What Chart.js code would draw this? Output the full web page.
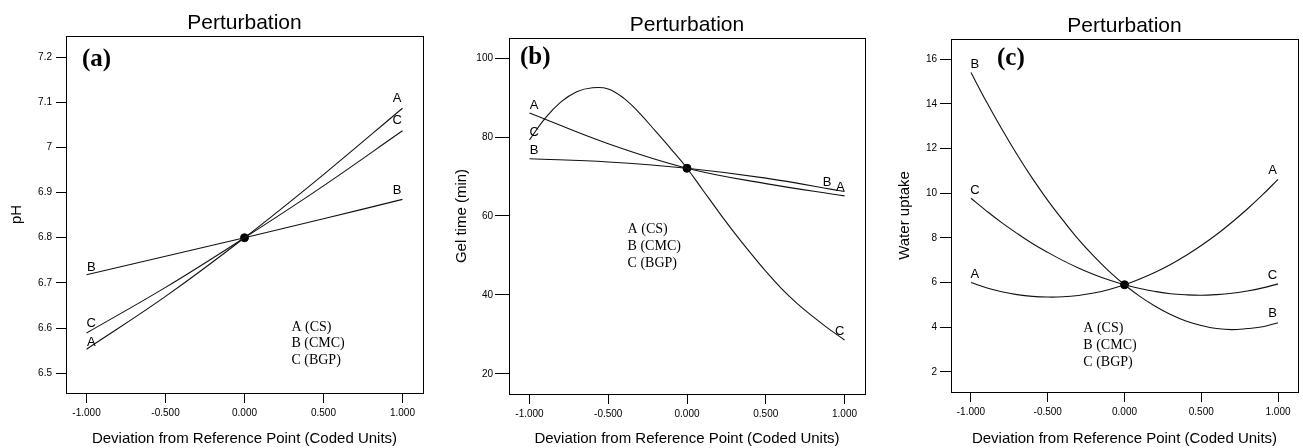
<!DOCTYPE html>
<html>
<head>
<meta charset="utf-8">
<script src="https://cdn.jsdelivr.net/npm/chart.js@4.4.0/dist/chart.umd.min.js"></script>
<style>
body { margin: 0; background: #fff; width: 1303px; height: 448px; position: relative; overflow: hidden; }
canvas { position: absolute; top: 0; }
</style>
</head>
<body>
<canvas id="chartA" width="440" height="448" style="left:0px"></canvas>
<canvas id="chartB" width="430" height="448" style="left:440px"></canvas>
<canvas id="chartC" width="433" height="448" style="left:870px"></canvas>
<script>
// x positions (coded units)
var x5 = [-1, -0.5, 0, 0.5, 1];
var x21 = [-1, -0.9, -0.8, -0.7, -0.6, -0.5, -0.4, -0.3, -0.2, -0.1, 0,
           0.1, 0.2, 0.3, 0.4, 0.5, 0.6, 0.7, 0.8, 0.9, 1];
var xTicks = [-1, -0.5, 0, 0.5, 1];

// (a) pH
var phA = [6.553, 6.670, 6.8, 6.940, 7.087];
var phB = [6.718, 6.759, 6.8, 6.842, 6.885];
var phC = [6.589, 6.690, 6.8, 6.915, 7.037];
var phTicks = [6.5, 6.6, 6.7, 6.8, 6.9, 7, 7.1, 7.2];

// (b) gel time
var gelA = [86.1, 78.3, 72.1, 68.2, 65.1];
var gelB = [74.5, 73.7, 72.1, 69.6, 66.2];
var gelC = [79.3, 84.8, 88.9, 91.5, 92.5, 92.2, 89.8, 86.0, 81.5, 76.9, 72.1,
            66.6, 61.1, 55.8, 50.8, 46.0, 41.6, 37.8, 34.5, 31.4, 28.6];
var gelTicks = [20, 40, 60, 80, 100];

// (c) water uptake
var wuA = [6.0, 5.77, 5.59, 5.46, 5.38, 5.35, 5.36, 5.42, 5.53, 5.69, 5.9,
           6.16, 6.46, 6.81, 7.21, 7.66, 8.15, 8.70, 9.29, 9.93, 10.62];
var wuB = [15.4, 14.1, 12.88, 11.73, 10.66, 9.68, 8.78, 7.93, 7.18, 6.5, 5.9,
           5.38, 4.94, 4.57, 4.28, 4.08, 3.94, 3.89, 3.94, 4.02, 4.2];
var wuC = [9.77, 9.21, 8.68, 8.20, 7.75, 7.35, 6.98, 6.65, 6.36, 6.11, 5.9,
           5.73, 5.60, 5.50, 5.45, 5.43, 5.46, 5.52, 5.62, 5.76, 5.94];
var wuTicks = [2, 4, 6, 8, 10, 12, 14, 16];

var legendLines = ['A (CS)', 'B (CMC)', 'C (BGP)'];
var sans = "'Liberation Sans', Arial, sans-serif";
var serif = "'Liberation Serif', 'Times New Roman', serif";

function pts(xs, ys) {
    var out = [];
    for (var i = 0; i < xs.length; i++) out.push({x: xs[i], y: ys[i]});
    return out;
}

function curve(xs, ys) {
    return {
        data: pts(xs, ys),
        borderColor: '#111',
        borderWidth: 1.1,
        pointRadius: 0,
        fill: false,
        tension: 0.4
    };
}

// frame, title, panel letter, legend text and curve labels
var decoPlugin = {
    id: 'deco',
    afterDraw: function(chart, args, o) {
        var c = chart.ctx, a = chart.chartArea;
        var sx = chart.scales.x, sy = chart.scales.y;
        c.save();
        c.strokeStyle = '#000';
        c.lineWidth = 1;
        c.strokeRect(Math.round(a.left) + 0.5, Math.round(a.top) + 0.5,
                     Math.round(a.right - a.left), Math.round(a.bottom - a.top));
        c.fillStyle = '#000';
        c.textAlign = 'center';
        c.textBaseline = 'middle';
        c.font = '21px ' + sans;
        c.fillText('Perturbation', (a.left + a.right) / 2, o.titleY);

        c.textAlign = 'left';
        c.font = 'bold 25px ' + serif;
        c.fillText(o.letter, a.left + o.letterDx, a.top + o.letterDy);

        c.font = '14px ' + serif;
        var lx = sx.getPixelForValue(o.legend[0]);
        var ly = sy.getPixelForValue(o.legend[1]);
        for (var i = 0; i < legendLines.length; i++) {
            c.fillText(legendLines[i], lx, ly + i * o.legend[2]);
        }

        c.textAlign = 'center';
        c.font = '13px ' + sans;
        o.labels.forEach(function(l) {
            c.fillText(l[0], sx.getPixelForValue(l[1]), sy.getPixelForValue(l[2]));
        });
        c.restore();
    }
};

function makePanel(id, p) {
    var ds = p.series.slice();
    ds.push({
        data: [{x: 0, y: p.center}],
        pointRadius: 4,
        pointBackgroundColor: '#000',
        pointBorderColor: '#000',
        showLine: false
    });
    return new Chart(document.getElementById(id), {
        type: 'line',
        data: { datasets: ds },
        plugins: [decoPlugin],
        options: {
            responsive: false,
            animation: false,
            events: [],
            layout: { padding: { left: 0, right: p.padRight, top: p.padTop, bottom: 0 } },
            plugins: {
                legend: { display: false },
                tooltip: { enabled: false },
                deco: {
                    titleY: p.titleY,
                    letter: p.letter, letterDx: p.letterDx, letterDy: p.letterDy,
                    legend: p.legendAt,
                    labels: p.labels
                }
            },
            scales: {
                x: {
                    type: 'linear',
                    min: -1.13,
                    max: 1.13,
                    afterBuildTicks: function(s) { s.ticks = xTicks.map(function(v) { return {value: v}; }); },
                    afterFit: function(s) { s.height = p.xHeight; },
                    grid: { drawOnChartArea: false, color: '#000', tickLength: 10 },
                    border: { display: false },
                    ticks: {
                        color: '#000',
                        padding: 4,
                        maxRotation: 0,
                        font: { family: sans, size: 10 },
                        callback: function(v) { return Number(v).toFixed(3); }
                    },
                    title: {
                        display: true,
                        text: 'Deviation from Reference Point (Coded Units)',
                        color: '#000',
                        font: { family: sans, size: 15 },
                        padding: { top: 0, bottom: 0 }
                    }
                },
                y: {
                    type: 'linear',
                    min: p.yMin,
                    max: p.yMax,
                    afterBuildTicks: function(s) { s.ticks = p.yTicks.map(function(v) { return {value: v}; }); },
                    afterFit: function(s) { s.width = p.yWidth; },
                    grid: { drawOnChartArea: false, color: '#000', tickLength: p.yTickLen },
                    border: { display: false },
                    ticks: {
                        color: '#000',
                        padding: p.yPad,
                        font: { family: sans, size: 10 },
                        callback: function(v) { return String(Number(Number(v).toFixed(1))); }
                    },
                    title: {
                        display: true,
                        text: p.yTitle,
                        color: '#000',
                        font: { family: sans, size: 15 },
                        padding: { top: p.yTitlePad, bottom: 0 }
                    }
                }
            }
        }
    });
}

makePanel('chartA', {
    series: [curve(x5, phA), curve(x5, phB), curve(x5, phC)],
    center: 6.8,
    yMin: 6.456, yMax: 7.247, yTicks: phTicks, yTitle: 'pH',
    padRight: 17, padTop: 36, xHeight: 55, yWidth: 66, yTickLen: 10, yPad: 4, yTitlePad: 8,
    titleY: 23, letter: '(a)', letterDx: 16, letterDy: 24,
    legendAt: [0.297, 6.602, 16.5],
    labels: [['A', 0.966, 7.108], ['C', 0.966, 7.059], ['B', 0.966, 6.904],
             ['B', -0.97, 6.735], ['C', -0.97, 6.610], ['A', -0.97, 6.569]]
});

makePanel('chartB', {
    series: [curve(x5, gelA), curve(x5, gelB), curve(x21, gelC)],
    center: 72.1,
    yMin: 14.9, yMax: 105.1, yTicks: gelTicks, yTitle: 'Gel time (min)',
    padRight: 5, padTop: 38, xHeight: 54, yWidth: 69, yTickLen: 14, yPad: 2, yTitlePad: 13,
    titleY: 25, letter: '(b)', letterDx: 11, letterDy: 20,
    legendAt: [-0.377, 56.6, 17],
    labels: [['A', -0.97, 88.1], ['C', -0.97, 81.1], ['B', -0.97, 76.5],
             ['B', 0.889, 68.4], ['A', 0.974, 67.3], ['C', 0.969, 30.7]]
});

makePanel('chartC', {
    series: [curve(x21, wuA), curve(x21, wuB), curve(x21, wuC)],
    center: 5.9,
    yMin: 1.1, yMax: 16.9, yTicks: wuTicks, yTitle: 'Water uptake',
    padRight: 1, padTop: 39, xHeight: 56, yWidth: 81, yTickLen: 11, yPad: 3, yTitlePad: 26,
    titleY: 26, letter: '(c)', letterDx: 46, letterDy: 20,
    legendAt: [-0.268, 3.94, 17],
    labels: [['B', -0.974, 15.76], ['C', -0.974, 10.13], ['A', -0.974, 6.37],
             ['A', 0.964, 11.03], ['C', 0.964, 6.33], ['B', 0.964, 4.61]]
});
</script>
</body>
</html>
